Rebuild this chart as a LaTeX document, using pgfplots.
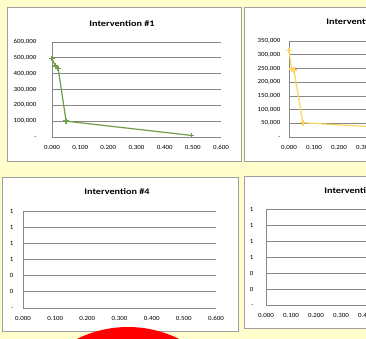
\documentclass[border=0pt]{standalone}
\usepackage{pgfplots}
\pgfplotsset{compat=1.18}
\usepackage{fontspec}
\setmainfont{Carlito}
\newfontfamily\tickfont[FakeStretch=1.1]{Carlito}
\newfontfamily\titlefont[FakeStretch=1.2]{Carlito}

\definecolor{sheetbg}{RGB}{255,253,204}
\definecolor{panelgray}{RGB}{160,160,160}
\definecolor{gridgray}{RGB}{134,134,134}
\definecolor{ivgreen}{RGB}{112,158,74}
\definecolor{ivyellow}{RGB}{255,212,92}

\newcommand{\ticksize}{\tickfont\fontsize{6.3}{7}\selectfont}
\newcommand{\titlesize}{\titlefont\fontsize{8.5}{9}\selectfont\bfseries}

\pgfplotsset{
  ivchart/.style={
    scale only axis,
    anchor=south west,
    axis lines=left,
    axis line style={-, gridgray, line width=0.7pt},
    ymajorgrids,
    grid style={gridgray, line width=0.7pt},
    major tick length=0pt,
    scaled y ticks=false,
    xmin=0, xmax=0.6,
    xtick={0,0.1,0.2,0.3,0.4,0.5,0.6},
    xticklabels={0.000,0.100,0.200,0.300,0.400,0.500,0.600},
    ticklabel style={font=\ticksize, text=black},
    xticklabel style={yshift=-4.5pt},
    clip=false,
  },
  ivline/.style={line width=1.2pt, mark=+, mark size=2.8pt,
    mark options={line width=1.5pt}},
}

\begin{document}
\begin{tikzpicture}[x=1pt,y=1pt]
\useasboundingbox (0,0) rectangle (366,339);
\clip (0,0) rectangle (366,339);
\fill[sheetbg] (0,0) rectangle (366,339);

% chart panels
\draw[panelgray, fill=white, line width=0.8pt] (7,332) rectangle (241,178);
\draw[panelgray, fill=white, line width=0.8pt] (244,332) rectangle (480,178);
\draw[panelgray, fill=white, line width=0.8pt] (2,162) rectangle (238,8);
\draw[panelgray, fill=white, line width=0.8pt] (244,163) rectangle (480,11);

% Intervention #1
\begin{axis}[ivchart, at={(52pt,202pt)}, width=169pt, height=95pt,
  ymin=0, ymax=600000,
  ytick={0,100000,200000,300000,400000,500000,600000},
  yticklabels={{-},{100,000},{200,000},{300,000},{400,000},{500,000},{600,000}},
  yticklabel style={xshift=-12pt}]
\addplot[ivline, ivgreen] coordinates {
  (0.000,495000) (0.012,448000) (0.022,432000) (0.050,100000) (0.495,10000)};
\end{axis}
\node[font=\titlesize] at (122,315) {Intervention \#1};

% Intervention #2
\begin{axis}[ivchart, at={(289pt,202pt)}, width=150pt, height=96pt,
  ymin=0, ymax=350000,
  ytick={0,50000,100000,150000,200000,250000,300000,350000},
  yticklabels={{-},{50,000},{100,000},{150,000},{200,000},{250,000},{300,000},{350,000}},
  yticklabel style={xshift=-5pt}]
\addplot[ivline, ivyellow] coordinates {
  (0.000,315000) (0.010,248000) (0.020,245000) (0.055,52000) (0.500,28000)};
\end{axis}
\node[font=\titlesize] at (359,317) {Intervention \#2};

% Intervention #4
\begin{axis}[ivchart, at={(23pt,31pt)}, width=193pt, height=97pt,
  ymin=0, ymax=1.2,
  ytick={0,0.2,0.4,0.6,0.8,1.0,1.2},
  yticklabels={{-},0,0,1,1,1,1},
  yticklabel style={xshift=-6pt}]
\end{axis}
\node[font=\titlesize] at (117,147) {Intervention \#4};

% Intervention #5
\begin{axis}[ivchart, at={(266pt,34pt)}, width=150pt, height=96pt,
  ymin=0, ymax=1.2,
  ytick={0,0.2,0.4,0.6,0.8,1.0,1.2},
  yticklabels={{-},0,0,1,1,1,1},
  yticklabel style={xshift=-9pt}]
\end{axis}
\node[font=\titlesize] at (357,148) {Intervention \#5};

% highlight marker below the charts
\fill[red] (128,-103) circle (115);
\end{tikzpicture}
\end{document}
